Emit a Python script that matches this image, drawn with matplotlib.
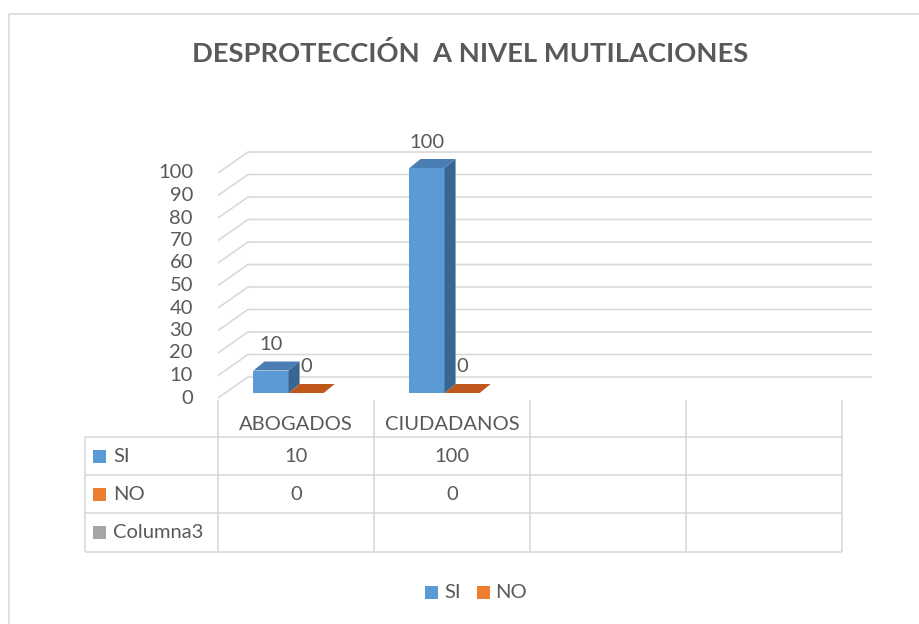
import matplotlib
matplotlib.use("Agg")
import matplotlib.pyplot as plt
from matplotlib.patches import Polygon, Rectangle
from matplotlib.transforms import Affine2D, offset_copy

# data
categories = ["ABOGADOS", "CIUDADANOS", "", ""]
si = [10, 100]
no = [0, 0]
series_names = ["SI", "NO", "Columna3"]
series_colors = ["#5B9BD5", "#ED7D31", "#A5A5A5"]
yticks = list(range(0, 101, 10))
title = "DESPROTECCIÓN  A NIVEL MUTILACIONES"

W, H = 919, 624
plt.rcParams['font.family'] = ['Lato', 'DejaVu Sans']
text_color = "#595959"
grid_color = "#D9D9D9"
fs = 14.5

fig = plt.figure(figsize=(W / 100, H / 100), dpi=100)
ax = fig.add_axes([218 / W, (H - 398) / H, 624 / W, 225 / H])
ax.set_xlim(-0.5, len(categories) - 0.5)
ax.set_ylim(0, 100)
ax.axis("off")

# pixel coords with origin at top-left
pix = Affine2D().scale(1, -1).translate(0, H)


def data_px(x, y, dx=0, dy=0):
    X, Y = ax.transData.transform((x, y))
    return X + dx, H - Y - dy


def line(xs, ys, **kw):
    ax.plot(xs, ys, transform=pix, clip_on=False, color=grid_color,
            lw=1.2, solid_capstyle="butt", zorder=0.5, **kw)


def label(x, y, s, ha="center"):
    ax.text(x, y, s, transform=pix, ha=ha, va="center", fontsize=fs, color=text_color)


# chart frame (left and top edges only visible)
line([9, 9, W], [H, 14, 14])

# 3d grid: diagonals on side wall + lines on back wall
DX, DY = 30, 21
tick_tr = offset_copy(ax.transData, fig=fig, x=-25, y=0, units='dots')
for v in yticks:
    x0, y0 = data_px(-0.5, v)
    x1, y1 = data_px(-0.5, v, DX, DY)
    x2, y2 = data_px(len(categories) - 0.5, v, DX, DY)
    line([x0, x1, x2], [y0, y1, y2])
    ax.text(-0.5, v, str(v), transform=tick_tr, ha="right", va="center",
            fontsize=fs, color=text_color)

# bars
BX, BY = 7, 5       # bar row offset into depth
PX, PY = 11, 9      # bar depth
w = 0.225
x_si = [i - 0.205 for i in range(len(si))]
x_no = [i + 0.02 for i in range(len(no))]
bar_tr = offset_copy(ax.transData, fig=fig, x=BX, y=BY, units='dots')
lab_tr = offset_copy(ax.transData, fig=fig, x=BX, y=BY + 26, units='dots')


def draw_bar(xc, h, front, top, side):
    ax.bar([xc], [h], width=w, color=front, transform=bar_tr, clip_on=False, zorder=2)
    a = data_px(xc - w / 2, h, BX, BY)
    b = data_px(xc + w / 2, h, BX, BY)
    c = (b[0] + PX, b[1] - PY)
    d = (a[0] + PX, a[1] - PY)
    ax.add_patch(Polygon([a, b, c, d], closed=True, fc=top, ec="none",
                         transform=pix, clip_on=False, zorder=2))
    if h > 0:
        e = data_px(xc + w / 2, 0, BX, BY)
        ax.add_patch(Polygon([e, b, c, (e[0] + PX, e[1] - PY)], closed=True,
                             fc=side, ec="none", transform=pix, clip_on=False, zorder=2))
    ax.text(xc, h, str(h), transform=lab_tr, ha="center", va="center",
            fontsize=fs, color=text_color, zorder=3)


for xc, h in zip(x_no, no):
    draw_bar(xc, h, series_colors[1], "#C0581E", "#A84A14")
for xc, h in zip(x_si, si):
    draw_bar(xc, h, series_colors[0], "#4A7DB4", "#3A6590")

# data table
col_x = [data_px(i - 0.5, 0)[0] for i in range(len(categories) + 1)]
row_y = [437, 475, 513, 552]
left = 85
for cx in col_x:
    line([cx, cx], [400, row_y[-1]])
for ry in row_y:
    line([left, col_x[-1]], [ry, ry])
line([left, left], [row_y[0], row_y[-1]])

for i, cat in enumerate(categories):
    label((col_x[i] + col_x[i + 1]) / 2, 424, cat)

table_vals = [si, no, []]
for r, name in enumerate(series_names):
    yc = (row_y[r] + row_y[r + 1]) / 2
    ax.add_patch(Rectangle((93, yc - 6.5), 13, 13, fc=series_colors[r], ec="none",
                           transform=pix, clip_on=False))
    label(113, yc, name, ha="left")
    for i, v in enumerate(table_vals[r]):
        label((col_x[i] + col_x[i + 1]) / 2, yc, str(v))

# legend
for (sx, tx), name, col in zip([(425, 444), (477, 495)], series_names[:2], series_colors[:2]):
    ax.add_patch(Rectangle((sx, 586), 13, 13, fc=col, ec="none", transform=pix, clip_on=False))
    label(tx, 593, name, ha="left")

# title, fitted to the original width
t = fig.text(470.5 / W, 1 - 54 / H, title, ha="center", va="center", fontsize=17,
             fontweight="bold", color=text_color)
r = fig.canvas.get_renderer()
t.set_fontsize(17 * 555 / t.get_window_extent(r).width)

fig.savefig("out.png", dpi=100)
